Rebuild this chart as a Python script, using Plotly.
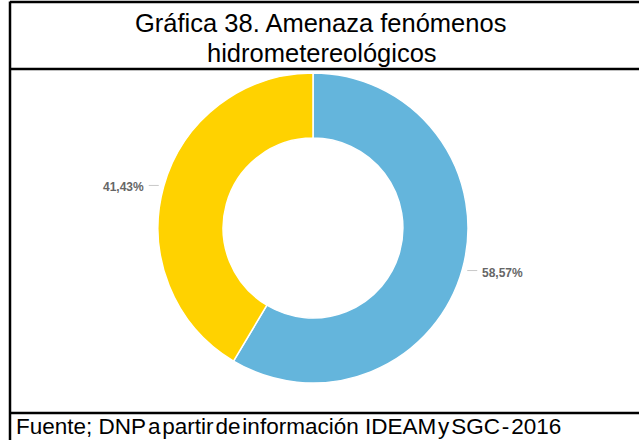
import math
import plotly.graph_objects as go

# Data
categories = ["Amenaza alta", "Amenaza media"]
shares = [58.57, 41.43]
colors = ["#64B5DC", "#FFD200"]
pct_labels = ["58,57%", "41,43%"]

title_lines = ["Gráfica 38. Amenaza fenómenos", "hidrometereológicos"]
source_text = "Fuente; DNP\u200aa\u200apartir\u200ade\u200ainformación IDEAM\u200ay\u200aSGC\u200a-\u200a2016"

W, H = 639, 440
cx, cy, R = 313, 228, 155  # donut centre and outer radius in pixels


def px(x):
    return x / W


def py(y):
    return 1 - y / H


fig = go.Figure()
fig.add_trace(go.Pie(
    labels=categories,
    values=shares,
    sort=False,
    direction="clockwise",
    rotation=0,
    hole=0.58,
    textinfo="none",
    hoverinfo="label+percent",
    marker=dict(colors=colors, line=dict(color="white", width=1.5)),
    domain=dict(x=[px(cx - R), px(cx + R)], y=[py(cy + R), py(cy - R)]),
    showlegend=False,
))

shapes = []
annotations = []

# Percentage labels with short leader lines at each slice's mid angle
total = sum(shares)
start = 0.0
for val, lab in zip(shares, pct_labels):
    mid = (start + val / 2) / total * 2 * math.pi
    start += val
    sx = math.sin(mid)
    sy = -math.cos(mid)
    x0 = cx + (R + 5) * sx
    y0 = cy + (R + 5) * sy
    side = 1 if sx >= 0 else -1
    x1 = x0 + side * 10
    shapes.append(dict(type="line", xref="paper", yref="paper",
                       x0=px(x0), y0=py(y0), x1=px(x1), y1=py(y0),
                       line=dict(color="#C8C8C8", width=1)))
    annotations.append(dict(
        x=px(x1 + side * 3), y=py(y0 + 2), xref="paper", yref="paper",
        text=f"<b>{lab}</b>", showarrow=False,
        xanchor="left" if side > 0 else "right", yanchor="middle",
        font=dict(family="Liberation Sans, Arial, sans-serif", size=12, color="#666666"),
    ))

# Table-style frame around the chart
frame = dict(color="black", width=2.5)
shapes += [
    dict(type="line", xref="paper", yref="paper", x0=px(10), x1=px(10), y0=py(1.5), y1=py(H + 5), line=frame),
    dict(type="line", xref="paper", yref="paper", x0=px(10), x1=px(W + 5), y0=py(2), y1=py(2), line=frame),
    dict(type="line", xref="paper", yref="paper", x0=px(10), x1=px(W + 5), y0=py(69), y1=py(69), line=frame),
    dict(type="line", xref="paper", yref="paper", x0=px(10), x1=px(W + 5), y0=py(413), y1=py(413), line=frame),
]

title_font = dict(family="Liberation Sans, Arial, sans-serif", size=25.5, color="black")
source_font = dict(family="Liberation Sans, Arial, sans-serif", size=22.5, color="black")
annotations += [
    dict(x=px(320), y=py(23), xref="paper", yref="paper", text=title_lines[0],
         showarrow=False, xanchor="center", yanchor="middle", font=title_font),
    dict(x=px(322), y=py(53), xref="paper", yref="paper", text=title_lines[1],
         showarrow=False, xanchor="center", yanchor="middle", font=title_font),
    dict(x=px(14), y=py(426), xref="paper", yref="paper", text=source_text,
         showarrow=False, xanchor="left", yanchor="middle", font=source_font),
]

fig.update_layout(
    width=W, height=H,
    margin=dict(l=0, r=0, t=0, b=0),
    paper_bgcolor="white", plot_bgcolor="white",
    shapes=shapes, annotations=annotations,
)

fig.write_html("out.html")
